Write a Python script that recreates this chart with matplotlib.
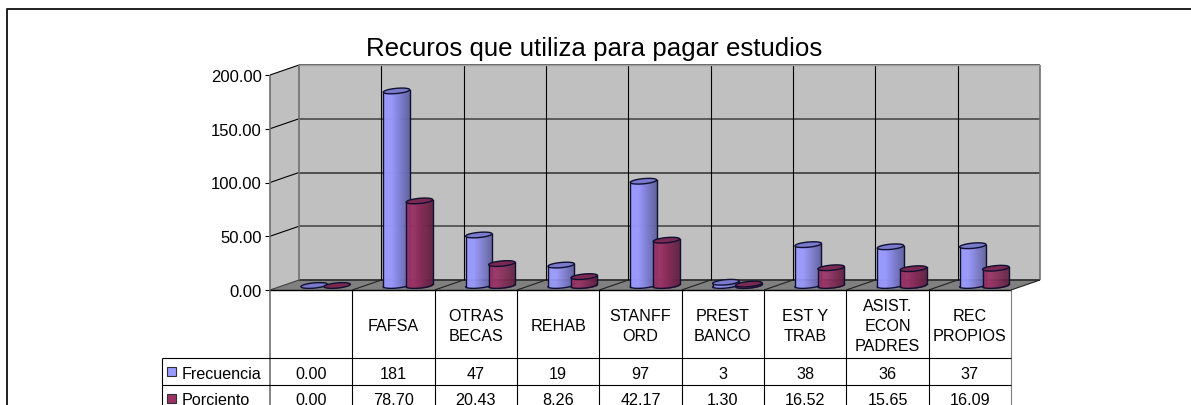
import numpy as np
import matplotlib
matplotlib.use('Agg')
import matplotlib.pyplot as plt
from matplotlib.colors import to_rgb
from matplotlib.lines import Line2D
from matplotlib.transforms import Affine2D

plt.rcParams['font.family'] = ['Liberation Sans', 'DejaVu Sans']

# Data
categorias = ['', 'FAFSA', 'OTRAS\nBECAS', 'REHAB', 'STANFF\nORD', 'PREST\nBANCO', 'EST Y\nTRAB', 'ASIST.\nECON\nPADRES', 'REC\nPROPIOS']
frecuencia = [0, 181, 47, 19, 97, 3, 38, 36, 37]
porciento = [0, 78.70, 20.43, 8.26, 42.17, 1.30, 16.52, 15.65, 16.09]
frecuencia_txt = ['0.00', '181', '47', '19', '97', '3', '38', '36', '37']
porciento_txt = ['0.00', '78.70', '20.43', '8.26', '42.17', '1.30', '16.52', '15.65', '16.09']
y_ticks = [0, 50, 100, 150, 200]
titulo = 'Recuros que utiliza para pagar estudios'

# Layout in pixels
W, H = 1191, 406
LEFT, RIGHT, TOP, BOTTOM = 270, 1011, 76, 291
DEPTH_X, DEPTH_Y = 29, 10

fig = plt.figure(figsize=(W / 100, H / 100), dpi=100, facecolor='white')
ax = fig.add_axes([LEFT / W, 1 - BOTTOM / H, (RIGHT - LEFT) / W, (BOTTOM - TOP) / H])
ax.set_xlim(0, 9)
ax.set_ylim(0, 200)
ax.axis('off')

px_x = 9 / (RIGHT - LEFT)
px_y = 200 / (BOTTOM - TOP)
dx = DEPTH_X * px_x
dy = DEPTH_Y * px_y


def rows_y(y_pix):
    return (BOTTOM - y_pix) * px_y


def line(xs, ys, color='black', lw=0.8, z=2):
    ax.plot(xs, ys, color=color, lw=lw, zorder=z, clip_on=False, solid_capstyle='butt')


# Walls and floor
ax.fill([0, dx, dx, 0], [0, dy, 200 + dy, 200], color='#C0C0C0', zorder=1, clip_on=False, lw=0)
ax.fill([dx, 9 + dx, 9 + dx, dx], [dy, dy, 200 + dy, 200 + dy], color='#C0C0C0', zorder=1, clip_on=False, lw=0)
ax.fill([0, 9, 9 + dx, dx], [0, 0, dy, dy], color='#808080', zorder=1, clip_on=False, lw=0)

for v in y_ticks:
    col = '#404040' if v in (50, 150) else '#303030'
    line([dx, 9 + dx], [v + dy, v + dy], color=col, lw=1.1 if v else 1.3)
    line([0, dx], [v, v + dy], color='black' if v else '#404040', lw=0.8)
    line([-5 * px_x, 0], [v, v], color='black', lw=0.8)
    ax.text(-8 * px_x, v - 1.5 * px_y, f'{v:.2f}', ha='right', va='center', fontsize=12, color='black', clip_on=False)

for i in range(10):
    col = '#707070' if i in (0, 9) else 'black'
    line([i + dx, i + dx], [dy, 200 + dy], color=col, lw=1.2 if i in (0, 9) else 0.8)
    if 0 < i < 10:
        line([i, i + dx], [0, dy], color='#202020', lw=0.8)
line([dx, 9 + dx], [200 + dy, 200 + dy], color='#A0A0A0', lw=1.0)
line([0, 0], [0, 200], color='#707070', lw=1.2)
line([0, 9], [0, 0], color='black', lw=1.0, z=4)


# Cylinders
def cilindro(xc, val, base, z):
    a = 13.2 * px_x
    b = 2.6 * px_y
    tilt = 1.2 * px_y
    y0 = 4.5 * px_y
    col = np.array(to_rgb(base))
    dark = col * 0.62
    t = np.linspace(0, np.pi, 40)
    if val > 0.5:
        n = 26
        edges = np.linspace(-a, a, n + 1)
        for k in range(n):
            f = (k + 0.5) / n
            c = col if f < 0.3 else col + (dark - col) * (f - 0.3) / 0.7
            u = np.linspace(edges[k], edges[k + 1], 3)
            front = y0 + u / a * tilt - b * np.sqrt(np.clip(1 - (u / a) ** 2, 0, 1))
            ax.fill_between(xc + u, front, y0 + val + u / a * tilt, color=c, lw=0.3, zorder=z, clip_on=False)
        bx = xc + a * np.cos(t)
        by = y0 + tilt * np.cos(t) - b * np.sin(t)
        ax.plot(bx, by, color='#101030', lw=1.0, zorder=z + 0.1, clip_on=False)
        for s in (-1, 1):
            ax.plot([xc + s * a] * 2, [y0 + s * tilt, y0 + val + s * tilt], color='#101030', lw=1.0, zorder=z + 0.1, clip_on=False)
    tt = np.linspace(0, 2 * np.pi, 60)
    ex = xc + a * np.cos(tt)
    ey = y0 + val + tilt * np.cos(tt) + b * np.sin(tt)
    ax.fill(ex, ey, facecolor=col * 0.8, edgecolor='#101030', lw=1.0, zorder=z + 0.2, clip_on=False)


for i in range(len(categorias)):
    xc = i + 0.5 + DEPTH_X / 2 * px_x
    cilindro(xc - 11.5 * px_x, frecuencia[i], '#9999FF', 5 + i)
    cilindro(xc + 11.5 * px_x, porciento[i], '#993366', 5.5 + i)

# Data table under the chart
ROW_HEAD, ROW_1, ROW_2 = 359, 386, 413
TABLE_LEFT = 162
y_head, y_1, y_2 = rows_y(ROW_HEAD), rows_y(ROW_1), rows_y(ROW_2)
for i in range(1, 10):
    line([i, i], [0, y_2], color='#808080' if i == 9 else 'black', lw=0.8)
line([0, 0], [0, y_2], color='#707070', lw=1.2)
x_tl = (TABLE_LEFT - LEFT) * px_x
line([x_tl, 9], [y_head, y_head])
line([x_tl, 9], [y_1, y_1])
line([x_tl, 9], [y_2, y_2])
line([x_tl, x_tl], [y_head, y_2])

for i, c in enumerate(categorias):
    ax.text(i + 0.5, (rows_y(291) + y_head) / 2 - 1.5 * px_y, c, ha='center', va='center', fontsize=11.6, linespacing=1.4, clip_on=False)
    ax.text(i + 0.5, (y_head + y_1) / 2 - 2.5 * px_y, frecuencia_txt[i], ha='center', va='center', fontsize=11.6, clip_on=False)
    ax.text(i + 0.5, (y_1 + y_2) / 2 - 1.5 * px_y, porciento_txt[i], ha='center', va='center', fontsize=11.6, clip_on=False)

for nombre, color, y_a, y_b, off in [('Frecuencia', '#9999FF', y_head, y_1, 2.5), ('Porciento', '#993366', y_1, y_2, 1.5)]:
    ym = (y_a + y_b) / 2
    sx = x_tl + 5 * px_x
    ax.fill([sx, sx + 9 * px_x, sx + 9 * px_x, sx],
            [ym - 4.5 * px_y, ym - 4.5 * px_y, ym + 4.5 * px_y, ym + 4.5 * px_y],
            facecolor=color, edgecolor='#303030', lw=0.8, zorder=3, clip_on=False)
    ax.text(x_tl + 20 * px_x, ym - off * px_y, nombre, ha='left', va='center', fontsize=11.6, clip_on=False)

ax.text(((594 - LEFT) * px_x), rows_y(49), titulo, ha='center', va='center', fontsize=18.6, clip_on=False)

# Outer frame: left and top edges only, the picture is cropped on the other sides
to_pix = Affine2D().scale(1, -1).translate(0, H)
fig.add_artist(Line2D([7, 7, W], [H, 10, 10], color='#202020', lw=1.4, transform=to_pix))

fig.savefig('out.png', dpi=100, facecolor='white')
